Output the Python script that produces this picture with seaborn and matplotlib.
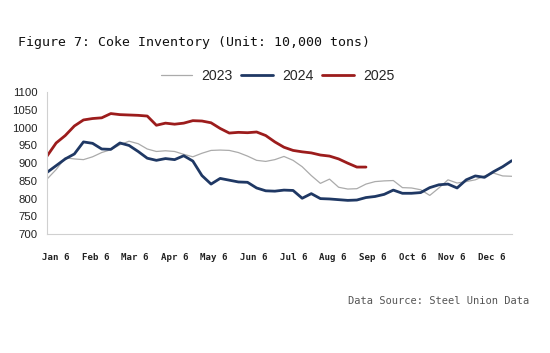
import pandas as pd
import matplotlib.pyplot as plt
import seaborn as sns

# weekly coke inventory, 10,000 tons
inv_2023 = [855, 882, 915, 912, 910, 918, 930, 938, 952, 962, 955, 940, 933, 935, 933, 925, 918, 928,
            936, 937, 936, 930, 920, 908, 905, 910, 919, 908, 890, 865, 843, 855, 832, 827, 828, 841,
            848, 850, 851, 831, 830, 825, 809, 830, 853, 844, 848, 853, 864, 872, 864, 863]
inv_2024 = [874, 893, 912, 926, 960, 956, 940, 939, 957, 950, 933, 914, 908, 913, 910, 921, 906, 865,
            841, 857, 852, 847, 846, 830, 822, 821, 824, 823, 801, 814, 800, 799, 797, 795, 796, 803,
            806, 812, 824, 815, 815, 817, 831, 839, 841, 830, 853, 864, 860, 876, 890, 907]
inv_2025 = [920, 957, 978, 1005, 1022, 1026, 1028, 1040, 1037, 1036, 1035, 1033, 1007, 1013, 1010, 1013,
            1020, 1019, 1014, 998, 985, 987, 986, 988, 978, 960, 945, 936, 932, 929, 923, 920, 912, 900,
            889, 889]

years = ['2023', '2024', '2025']
month_labels = ['Jan 6', 'Feb 6', 'Mar 6', 'Apr 6', 'May 6', 'Jun 6',
                'Jul 6', 'Aug 6', 'Sep 6', 'Oct 6', 'Nov 6', 'Dec 6']

frames = []
for yr, vals in zip(years, [inv_2023, inv_2024, inv_2025]):
    frames.append(pd.DataFrame({'week': range(len(vals)), 'inventory': vals, 'year': yr}))
df = pd.concat(frames, ignore_index=True)

# month labels, evenly spaced in week units
tick_pos = [0.95 + k * 4.35 for k in range(12)]

sns.set_style('white')
plt.rcParams['font.family'] = ['Liberation Sans', 'DejaVu Sans']

fig = plt.figure(figsize=(5.5, 3.53), dpi=100)
ax = fig.add_axes([0.0855, 0.337, 0.845, 0.4015])

palette = {'2023': '#ababab', '2024': '#1f3864', '2025': '#9c1c1c'}
sns.lineplot(data=df, x='week', y='inventory', hue='year', palette=palette,
             size='year', sizes={'2023': 0.9, '2024': 2.0, '2025': 2.0},
             ax=ax, legend=False)

ax.set_xlim(0, 51)
ax.set_ylim(700, 1100)
ax.set_yticks(range(700, 1101, 50))
ax.set_xticks(tick_pos)
ax.set_xticklabels(month_labels, family='DejaVu Sans Mono', fontsize=6.6,
                   fontweight='bold', color='#222222')
ax.tick_params(axis='x', length=0, pad=14)
ax.tick_params(axis='y', length=3, width=0.6, color='#bbbbbb', labelsize=8.2,
               labelcolor='#222222', pad=4)
ax.set_xlabel('')
ax.set_ylabel('')
for s in ['top', 'right']:
    ax.spines[s].set_visible(False)
for s in ['left', 'bottom']:
    ax.spines[s].set_color('#d0d0d0')
    ax.spines[s].set_linewidth(0.8)

handles = [plt.Line2D([], [], color=palette['2023'], lw=0.9),
           plt.Line2D([], [], color=palette['2024'], lw=2.0),
           plt.Line2D([], [], color=palette['2025'], lw=2.0)]
fig.legend(handles, years, loc='center', bbox_to_anchor=(0.505, 0.785), ncol=3,
           frameon=False, fontsize=10.2, handlelength=2.2, handletextpad=0.7,
           columnspacing=0.6)

fig.text(0.033, 0.88, 'Figure 7: Coke Inventory (Unit: 10,000 tons)',
         family='DejaVu Sans Mono', fontsize=9.5, color='#111111', va='center')
fig.text(0.962, 0.148, 'Data Source: Steel Union Data', family='DejaVu Sans Mono',
         fontsize=7.5, color='#555555', ha='right', va='center')

fig.savefig('out.png', dpi=100)
